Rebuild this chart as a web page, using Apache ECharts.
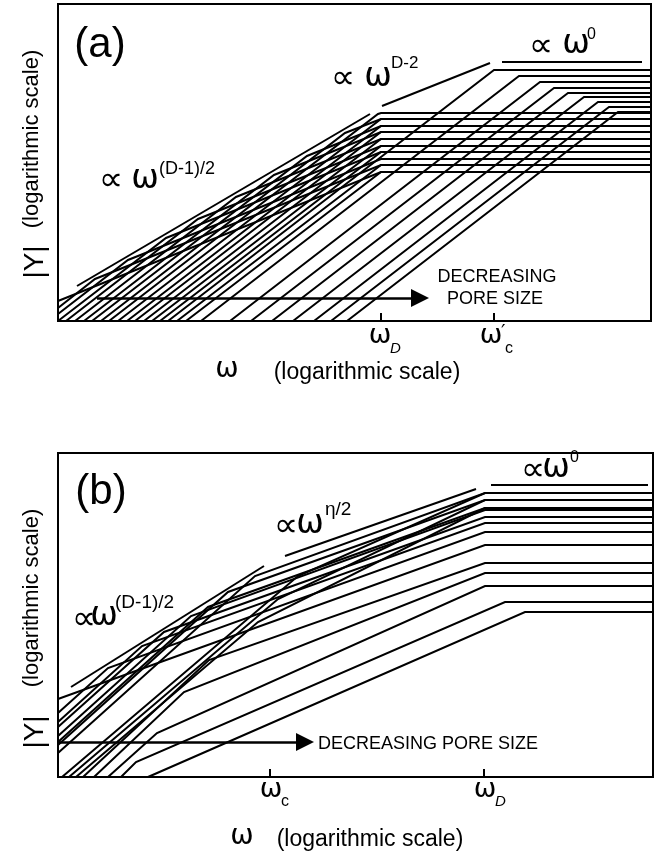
<!DOCTYPE html>
<html><head><meta charset="utf-8">
<script src="https://cdn.jsdelivr.net/npm/echarts@6/dist/echarts.min.js"></script>
<style>html,body{margin:0;padding:0;background:#fff}#c{width:656px;height:855px}</style>
</head><body><div id="c"></div>
<script>
// ---------- Panel (a): x = log ω (arbitrary units), y = log |Y| (arbitrary units)
const aTicks = [323, 436];                 // ω_D , ω'_c
const aEnvelopes = [
  [[19,35],[312,207]],                     // ∝ ω^(D-1)/2
  [[324,215],[432,258]],                   // ∝ ω^(D-2)
  [[444,259],[584,259]]                    // ∝ ω^0
];
const aBandCurves = [
  [[0,20],[323,149],[593,149]],
  [[0,13],[37,42],[323,156],[593,156]],
  [[0,7],[70,61],[323,162],[593,162]],
  [[0,0],[108,83],[323,169],[593,169]],
  [[8,0],[140,102],[323,175],[593,175]],
  [[17,0],[178,124],[323,182],[593,182]],
  [[26,0],[216,146],[323,189],[593,189]],
  [[34,0],[249,165],[323,195],[593,195]],
  [[43,0],[287,188],[323,202],[593,202]],
  [[51,0],[320,207],[323,208],[593,208]]
];
const aSteepCurves = [
  [[60,0],[323,202],[593,202]],
  [[69,0],[323,195],[593,195]],
  [[77,0],[323,189],[593,189]],
  [[86,0],[323,182],[593,182]],
  [[94,0],[323,175],[593,175]],
  [[102,0],[323,169],[593,169]],
  [[119,0],[323,156],[593,156]],
  [[128,0],[323,149],[593,149]]
];
const aSmallPoreCurves = [
  [[110,0],[436,251],[593,251]],
  [[143,0],[461,245],[593,245]],
  [[172,0],[482,239],[593,239]],
  [[193,0],[496,233],[593,233]],
  [[214,0],[510,228],[593,228]],
  [[235,0],[526,224],[593,224]],
  [[256,0],[540,219],[593,219]],
  [[273,0],[551,214],[593,214]],
  [[289,0],[560,209],[593,209]]
];
const aArrow = [[39,23],[362,23]];

// ---------- Panel (b)
const bTicks = [212, 426];                 // ω_c , ω_D
const bEnvelopes = [
  [[13,90],[206,211]],                     // ∝ ω^(D-1)/2
  [[227,221],[418,288]],                   // ∝ ω^(η/2)
  [[433,292],[590,292]]                    // ∝ ω^0
];
const bUpperCurves = [
  [[0,78],[427,232],[595,232]],
  [[0,64],[50,109],[427,245],[595,245]],
  [[0,55],[84,131],[427,254],[595,254]],
  [[0,50],[106,145],[427,260],[595,260]],
  [[0,41],[133,161],[427,267],[595,267]],
  [[0,35],[150,170],[427,269],[595,269]],
  [[0,32],[170,185],[427,277],[595,277]],
  [[0,24],[197,201],[427,284],[595,284]]
];
const bMidCurves = [
  [[4,0],[240,201],[427,284],[595,284]],
  [[11,0],[220,178],[427,277],[595,277]],
  [[18,0],[200,155],[427,269],[595,269]]
];
const bLowerCurves = [
  [[25,0],[151,117],[427,214],[595,214]],
  [[36,0],[126,85],[427,204],[595,204]],
  [[50,0],[99,44],[427,191],[595,191]],
  [[63,0],[78,15],[447,175],[595,175]],
  [[90,0],[467,165],[595,165]]
];
const bArrow = [[0,35],[247,35]];

// ---------- texts
const FS = 'Liberation Sans, Arial, sans-serif';
const FG = 'DejaVu Sans, sans-serif';
const texts = [
  {t:'(a)', x:100, y:45, s:42},
  {t:'(b)', x:101, y:492, s:42},
  {t:'∝', x:111, y:181, s:34, f:FG},
  {t:'ω', x:145, y:179, s:33, f:FG},
  {t:'(D-1)/2', x:159, y:169, s:18, a:'left'},
  {t:'∝', x:343, y:79, s:34, f:FG},
  {t:'ω', x:378, y:77, s:33, f:FG},
  {t:'D-2', x:391, y:63, s:17, a:'left'},
  {t:'∝', x:541, y:47, s:34, f:FG},
  {t:'ω', x:576, y:44, s:33, f:FG},
  {t:'0', x:587, y:35, s:16, a:'left'},
  {t:'DECREASING', x:497, y:277, s:18},
  {t:'PORE SIZE', x:495, y:299, s:18},
  {t:'∝', x:84, y:620, s:34, f:FG},
  {t:'ω', x:104, y:616, s:33, f:FG},
  {t:'(D-1)/2', x:115, y:603, s:19, a:'left'},
  {t:'∝', x:286, y:527, s:34, f:FG},
  {t:'ω', x:310, y:524, s:33, f:FG},
  {t:'η/2', x:325, y:510, s:19, a:'left'},
  {t:'∝', x:533, y:471, s:34, f:FG},
  {t:'ω', x:556, y:468, s:33, f:FG},
  {t:'0', x:570, y:458, s:16, a:'left'},
  {t:'DECREASING PORE SIZE', x:318, y:744, s:18, a:'left'},
  // tick labels
  {t:'ω', x:380, y:336, s:27, f:FG},
  {t:'D', x:390, y:349, s:15, a:'left', it:true},
  {t:'ω', x:491, y:336, s:27, f:FG},
  {t:'′', x:501, y:333, s:20, a:'left', f:FG},
  {t:'c', x:505, y:349, s:16, a:'left'},
  {t:'ω', x:271, y:790, s:27, f:FG},
  {t:'c', x:281, y:802, s:16, a:'left'},
  {t:'ω', x:485, y:790, s:27, f:FG},
  {t:'D', x:495, y:802, s:15, a:'left', it:true},
  // axis titles
  {t:'ω', x:227, y:370, s:28, f:FG},
  {t:'(logarithmic scale)', x:367, y:373, s:23},
  {t:'ω', x:242, y:837, s:28, f:FG},
  {t:'(logarithmic scale)', x:370, y:840, s:23},
  {t:'|Y|', x:35, y:262, s:28, r:true},
  {t:'(logarithmic scale)', x:32, y:139, s:22, r:true},
  {t:'|Y|', x:35, y:732, s:28, r:true},
  {t:'(logarithmic scale)', x:32, y:598, s:22, r:true}
];

const chart = echarts.init(document.getElementById('c'), null, {renderer:'canvas'});
const K = '#000';
function lineSeries(list, gi, w) {
  return list.map(pts => ({
    type:'line', xAxisIndex:gi, yAxisIndex:gi, data:pts,
    showSymbol:false, symbol:'none', silent:true, animation:false, clip:true,
    lineStyle:{color:K, width:w || 2, join:'miter'}
  }));
}
function arrowSeries(coords, gi) {
  return {
    type:'lines', coordinateSystem:'cartesian2d', xAxisIndex:gi, yAxisIndex:gi,
    silent:true, animation:false,
    symbol:['none','triangle'], symbolSize:[1,18],
    lineStyle:{color:K, width:2.5, opacity:1},
    data:[{coords:coords}]
  };
}
function xAx(gi, max, ticks) {
  return {gridIndex:gi, type:'value', min:0, max:max,
    axisLine:{show:false}, splitLine:{show:false}, axisLabel:{show:false},
    axisTick:{show:true, inside:true, length:8, customValues:ticks, lineStyle:{color:K, width:2}}};
}
function yAx(gi, max) {
  return {gridIndex:gi, type:'value', min:0, max:max,
    axisLine:{show:false}, splitLine:{show:false}, axisLabel:{show:false}, axisTick:{show:false}};
}
const series = [].concat(
  lineSeries(aEnvelopes, 0), lineSeries(aBandCurves, 0), lineSeries(aSteepCurves, 0),
  lineSeries(aSmallPoreCurves, 0), [arrowSeries(aArrow, 0)],
  lineSeries(bEnvelopes, 1), lineSeries(bUpperCurves, 1), lineSeries(bMidCurves, 1),
  lineSeries(bLowerCurves, 1), [arrowSeries(bArrow, 1)]
);
const graphic = texts.map(o => ({
  type:'text', x:o.x, y:o.y, rotation: o.r ? Math.PI/2 : 0, silent:true,
  style:{text:o.t, fill:K, font:(o.it?'italic ':'') + o.s + 'px ' + (o.f || FS),
    align:o.a || 'center', verticalAlign:'middle'}
}));
chart.setOption({
  backgroundColor:'#fff',
  animation:false,
  grid:[
    {left:58, top:4, width:593, height:317, show:true, borderColor:K, borderWidth:2, backgroundColor:'transparent'},
    {left:58, top:453, width:595, height:324, show:true, borderColor:K, borderWidth:2, backgroundColor:'transparent'}
  ],
  xAxis:[xAx(0, 593, aTicks), xAx(1, 595, bTicks)],
  yAxis:[yAx(0, 317), yAx(1, 324)],
  series: series,
  graphic: graphic
});
</script></body></html>
